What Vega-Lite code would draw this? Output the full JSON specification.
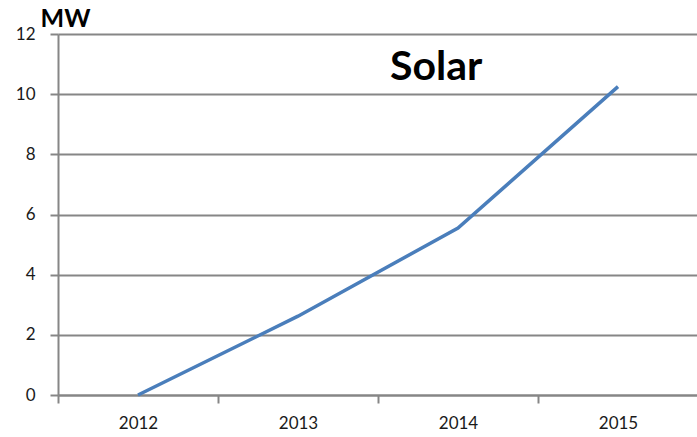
{
  "$schema": "https://vega.github.io/schema/vega-lite/v6.json",
  "autosize": "none",
  "padding": {"left": 58, "top": 34, "right": 0, "bottom": 42},
  "width": 640,
  "height": 361,
  "background": "white",
  "layer": [
    {
      "data": {
        "values": [
          {"year": "2012", "mw": 0},
          {"year": "2013", "mw": 2.62},
          {"year": "2014", "mw": 5.55},
          {"year": "2015", "mw": 10.25}
        ]
      },
      "mark": {"type": "line", "color": "#4A7EBB", "strokeWidth": 3.5},
      "encoding": {
        "x": {
          "field": "year",
          "type": "ordinal",
          "bandPosition": 0.5,
          "scale": {"type": "band", "paddingInner": 0, "paddingOuter": 0},
          "axis": {
            "title": null,
            "labelAngle": 0,
            "tickBand": "extent",
            "grid": false,
            "domainColor": "#868686",
            "domainWidth": 2,
            "tickColor": "#868686",
            "tickWidth": 2,
            "tickSize": 8,
            "labelPadding": 12,
            "labelFont": "Lato",
            "labelFontSize": 17,
            "labelColor": "#1a1a1a"
          }
        },
        "y": {
          "field": "mw",
          "type": "quantitative",
          "scale": {"domain": [0, 12], "nice": false},
          "axis": {
            "values": [0, 2, 4, 6, 8, 10, 12],
            "title": "MW",
            "titleAngle": 0,
            "titleX": -18,
            "titleY": -8,
            "titleAlign": "left",
            "titleBaseline": "alphabetic",
            "titleFont": "Lato",
            "titleFontSize": 25,
            "titleFontWeight": "bold",
            "titleColor": "#000000",
            "grid": true,
            "gridColor": "#868686",
            "gridWidth": 2,
            "domainColor": "#868686",
            "domainWidth": 2,
            "tickColor": "#868686",
            "tickWidth": 2,
            "tickSize": 8,
            "labelPadding": 15,
            "labelFont": "Lato",
            "labelFontSize": 17,
            "labelColor": "#1a1a1a"
          }
        }
      }
    },
    {
      "data": {"values": [{"label": "Solar", "year": "2014", "mw": 10.47}]},
      "mark": {
        "type": "text",
        "align": "left",
        "baseline": "alphabetic",
        "dx": -68,
        "font": "Lato",
        "fontSize": 41,
        "fontWeight": "bold",
        "color": "#000000"
      },
      "encoding": {
        "x": {"field": "year", "type": "ordinal", "bandPosition": 0.5},
        "y": {"field": "mw", "type": "quantitative"},
        "text": {"field": "label"}
      }
    }
  ],
  "config": {"view": {"stroke": null}}
}
